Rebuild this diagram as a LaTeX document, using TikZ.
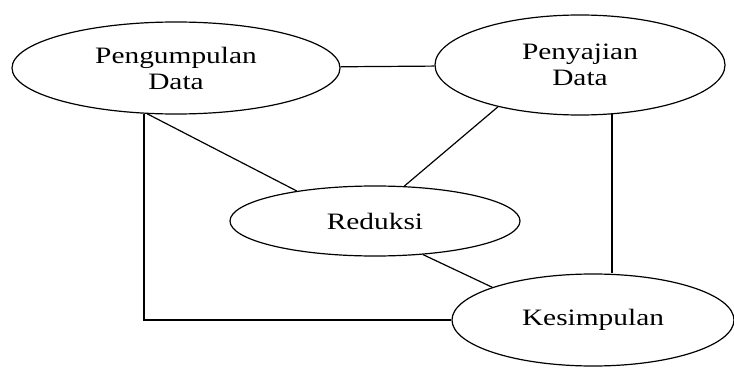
\documentclass[tikz,border=0pt]{standalone}
\usepackage{fontspec}
\newfontfamily\diagfont[FakeStretch=1.25]{Liberation Serif}
\usetikzlibrary{
  shapes.geometric,
  positioning
}
\tikzset{
  stage/.style={
    ellipse, draw, line width=1.2pt, inner sep=0pt,
    align=center, font=\diagfont\fontsize{23.5}{26}\selectfont
  },
  link/.style={line width=1.2pt},
}

\begin{document}
\begin{tikzpicture}[x=1pt, y=-1pt]
\useasboundingbox (0,0) rectangle (734,369);

% --- the four stages ---
\node[stage, minimum width=328pt, minimum height=92pt] (kumpul) at (176,68) {Pengumpulan\\Data};
\node[stage, minimum width=290pt, minimum height=100pt] (saji) at (580,65) {Penyajian\\Data};
\node[stage, minimum width=290pt, minimum height=70pt] (reduksi) at (375,221) {Reduksi};
\node[stage, minimum width=282pt, minimum height=92pt] (simpul) at (593,320) {Kesimpulan};

% --- connections ---
\draw[link] (kumpul) -- (saji);
\draw[link] (kumpul.235) |- (simpul.west);
\draw[link] (kumpul.238) -- (reduksi.159);
\draw[link] (saji.207) -- (reduksi.50);
\draw[link] (saji.303) -- (saji.303 |- simpul.north);
\draw[link] (reduksi.325) -- (simpul.162);

\end{tikzpicture}
\end{document}
